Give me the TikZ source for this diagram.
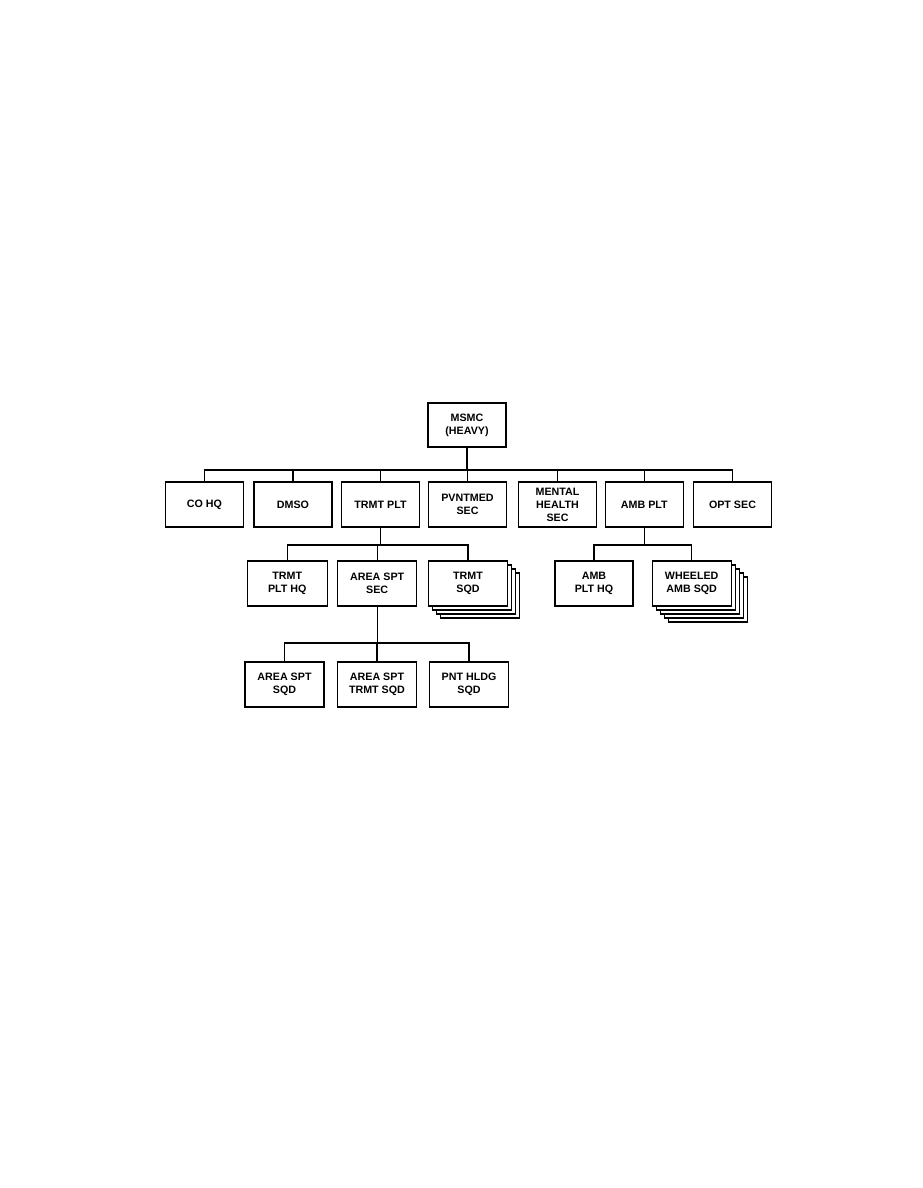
\documentclass[tikz,border=0pt]{standalone}
\usepackage{fontspec}
\setmainfont{Liberation Sans}
\usetikzlibrary{shadows}
\begin{document}
\begin{tikzpicture}[x=1pt,y=-1pt,
  box/.style={draw, line width=1.1pt, fill=white, minimum width=78pt, minimum height=45pt,
    inner sep=1pt, align=center, font=\fontsize{10.7}{13}\selectfont\bfseries},
  thickbox/.style={box, line width=1.6pt},
  link/.style={line width=1.1pt},
  stackthree/.style={copy shadow={shadow xshift=12pt, shadow yshift=-12pt},
    copy shadow={shadow xshift=8pt, shadow yshift=-8pt},
    copy shadow={shadow xshift=4pt, shadow yshift=-4pt}},
  stackfour/.style={copy shadow={shadow xshift=16pt, shadow yshift=-16pt},
    copy shadow={shadow xshift=12pt, shadow yshift=-12pt},
    copy shadow={shadow xshift=8pt, shadow yshift=-8pt},
    copy shadow={shadow xshift=4pt, shadow yshift=-4pt}}]
\useasboundingbox (0,0) rectangle (923,1188);

% level 0
\node[box, minimum height=44pt] (msmc) at (467,425) {MSMC\\(HEAVY)};

% level 1
\node[box] (cohq) at (204.5,504.5) {CO HQ};
\node[box] (dmso) at (293,504.5) {DMSO};
\node[box] (trmt) at (380.5,504.5) {TRMT PLT};
\node[box] (pvnt) at (467.5,504.5) {PVNTMED\\SEC};
\node[box] (ment) at (557.5,504.5) {MENTAL\\HEALTH\\SEC};
\node[box] (amb) at (644.3,504.5) {AMB PLT};
\node[box] (opt) at (732.5,504.5) {OPT SEC};

% level 2
\node[thickbox, minimum width=80pt] (tphq) at (287.3,583.5) {TRMT\\PLT HQ};
\node[box, minimum width=79pt] (asec) at (377.2,583.5) {AREA SPT\\SEC};
\node[box, minimum width=79pt, stackthree] (tsqd) at (468,583.5) {TRMT\\SQD};
\node[box] (aphq) at (594,583.5) {AMB\\PLT HQ};
\node[box, minimum width=79pt, stackfour] (wsqd) at (691.7,583.5) {WHEELED\\AMB SQD};

% level 3
\node[box, minimum width=79pt] (asqd) at (284.5,684.5) {AREA SPT\\SQD};
\node[box, minimum width=79pt] (atsq) at (377,684.5) {AREA SPT\\TRMT SQD};
\node[box, minimum width=79pt] (pnt) at (469,684.5) {PNT HLDG\\SQD};

% buses
\coordinate (b0) at (467,470);
\coordinate (b1) at (380.5,545);
\coordinate (b2) at (644.3,545);
\coordinate (b3) at (377.2,643);

\draw[link] (msmc.south) -- (b0);
\foreach \n in {cohq,dmso,trmt,pvnt,ment,amb,opt}
  \draw[link] (\n.north) |- (b0);

\draw[link] (trmt.south) -- (b1);
\foreach \n in {tphq,asec,tsqd}
  \draw[link] (\n.north) |- (b1);

\draw[link] (amb.south) -- (b2);
\foreach \n in {aphq,wsqd}
  \draw[link] (\n.north) |- (b2);

\draw[link] (asec.south) -- (b3);
\foreach \n in {asqd,atsq,pnt}
  \draw[link] (\n.north) |- (b3);
\end{tikzpicture}
\end{document}
